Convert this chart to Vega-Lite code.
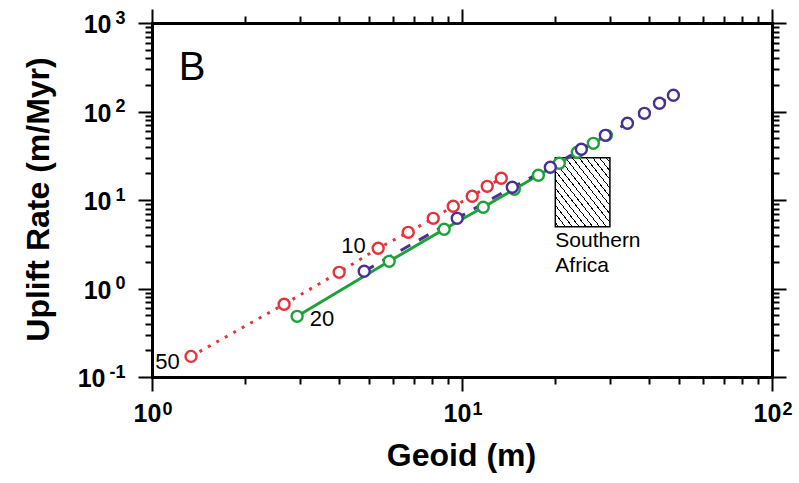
{
  "$schema": "https://vega.github.io/schema/vega-lite/v6.json",
  "width": 620,
  "height": 354,
  "autosize": "none",
  "padding": {"left": 152, "top": 23, "right": 27, "bottom": 106},
  "background": "white",
  "config": {
    "view": {"stroke": null},
    "axis": {"grid": false, "domainColor": "black", "tickColor": "black", "labelColor": "black", "titleColor": "black", "labelFont": "Liberation Sans", "titleFont": "Liberation Sans", "labelOverlap": false, "labelFlush": false, "labelBound": false, "domainCap": "square"}
  },
  "datasets": {
    "pts": [
      {"s": "r", "x": 1.336, "y": 0.171},
      {"s": "r", "x": 2.668, "y": 0.663},
      {"s": "r", "x": 4.015, "y": 1.524},
      {"s": "r", "x": 5.365, "y": 2.846},
      {"s": "r", "x": 6.707, "y": 4.315},
      {"s": "r", "x": 8.078, "y": 6.21},
      {"s": "r", "x": 9.37, "y": 8.49},
      {"s": "r", "x": 10.79, "y": 11.01},
      {"s": "r", "x": 12.06, "y": 14.28},
      {"s": "r", "x": 13.39, "y": 17.59},
      {"s": "g", "x": 2.939, "y": 0.485},
      {"s": "g", "x": 5.823, "y": 2.029},
      {"s": "g", "x": 8.76, "y": 4.667},
      {"s": "g", "x": 11.71, "y": 8.27},
      {"s": "g", "x": 14.75, "y": 13.21},
      {"s": "g", "x": 17.63, "y": 19.02},
      {"s": "g", "x": 20.6, "y": 26.0},
      {"s": "g", "x": 23.55, "y": 34.6},
      {"s": "g", "x": 26.53, "y": 43.7},
      {"s": "g", "x": 29.22, "y": 53.8},
      {"s": "p", "x": 4.836, "y": 1.565},
      {"s": "p", "x": 9.65, "y": 6.21},
      {"s": "p", "x": 14.53, "y": 13.92},
      {"s": "p", "x": 19.27, "y": 23.42},
      {"s": "p", "x": 24.27, "y": 37.4},
      {"s": "p", "x": 29.0, "y": 53.8},
      {"s": "p", "x": 34.17, "y": 73.6},
      {"s": "p", "x": 38.77, "y": 95.4},
      {"s": "p", "x": 43.35, "y": 123.8},
      {"s": "p", "x": 48.08, "y": 152.5}
    ],
    "ann": [
      {"t": "50", "x": 1.122, "y": 0.1486},
      {"t": "20", "x": 3.535, "y": 0.458},
      {"t": "10", "x": 4.467, "y": 3.06}
    ],
    "sa": [{"t": "Southern\nAfrica", "x": 20.0, "y": 2.94}],
    "panel": [{"t": "B", "x": 1.346, "y": 310}],
    "box": [{"x": 20, "x2": 30, "y": 5, "y2": 30}]
  },
  "resolve": {"axis": {"x": "independent", "y": "independent"}},
  "layer": [
    {
      "data": {"name": "pts"},
      "mark": {"type": "point", "opacity": 0},
      "encoding": {
        "x": {"field": "x", "type": "quantitative", "scale": {"type": "log", "domain": [1, 100], "nice": false},
          "axis": {"orient": "bottom", "values": [1, 10, 100], "labelExpr": "'10'", "labelFontSize": 25, "labelFontWeight": "bold", "labelAlign": "center", "labelBaseline": "top", "labelPadding": 10, "labelOffset": -5, "tickSize": 14, "tickWidth": 2, "domainWidth": 3,
            "title": "Geoid (m)", "titleFontSize": 32, "titleFontWeight": "bold", "titleX": 309, "titleY": 78, "titleAlign": "center", "titleBaseline": "middle"}},
        "y": {"field": "y", "type": "quantitative", "scale": {"type": "log", "domain": [0.1, 1000], "nice": false},
          "axis": {"orient": "left", "values": [0.1, 1, 10, 100, 1000], "labelExpr": "'10'", "labelFontSize": 25, "labelFontWeight": "bold", "labelAlign": "right", "labelBaseline": "middle", "labelPadding": {"condition": {"test": "datum.value < 0.5", "value": 33}, "value": 27}, "labelOffset": 1.5, "tickSize": 14, "tickWidth": 2, "domainWidth": 3,
            "title": "Uplift Rate (m/Myr)", "titleFontSize": 32, "titleFontWeight": "bold", "titleX": -114, "titleY": 176, "titleAngle": -90, "titleAlign": "center", "titleBaseline": "middle"}}
      }
    },
    {
      "data": {"name": "pts"},
      "mark": {"type": "point", "opacity": 0},
      "encoding": {
        "x": {"field": "x", "type": "quantitative", "scale": {"type": "log", "domain": [1, 100], "nice": false},
          "axis": {"orient": "bottom", "values": [1, 10, 100], "labelExpr": "datum.value < 0.5 ? '-1' : datum.value < 5 ? '0' : datum.value < 50 ? '1' : datum.value < 500 ? '2' : '3'", "labelFontSize": 18, "labelFontWeight": "bold", "labelAlign": "center", "labelBaseline": "top", "labelPadding": 23, "labelOffset": 15, "ticks": false, "tickSize": 0, "domain": false, "title": null}},
        "y": {"field": "y", "type": "quantitative", "scale": {"type": "log", "domain": [0.1, 1000], "nice": false},
          "axis": {"orient": "left", "values": [0.1, 1, 10, 100, 1000], "labelExpr": "datum.value < 0.5 ? '-1' : datum.value < 5 ? '0' : datum.value < 50 ? '1' : datum.value < 500 ? '2' : '3'", "labelFontSize": 18, "labelFontWeight": "bold", "labelAlign": "right", "labelBaseline": "middle", "labelPadding": 27, "labelOffset": -5, "ticks": false, "tickSize": 0, "domain": false, "title": null}}
      }
    },
    {
      "data": {"name": "pts"},
      "mark": {"type": "point", "opacity": 0},
      "encoding": {
        "x": {"field": "x", "type": "quantitative", "scale": {"type": "log", "domain": [1, 100], "nice": false},
          "axis": {"orient": "bottom", "values": [2, 3, 4, 5, 6, 7, 8, 9, 20, 30, 40, 50, 60, 70, 80, 90], "labels": false, "tickSize": 7, "tickWidth": 2, "domain": false, "title": null}},
        "y": {"field": "y", "type": "quantitative", "scale": {"type": "log", "domain": [0.1, 1000], "nice": false},
          "axis": {"orient": "left", "values": [0.2, 0.3, 0.4, 0.5, 0.6, 0.7, 0.8, 0.9, 2, 3, 4, 5, 6, 7, 8, 9, 20, 30, 40, 50, 60, 70, 80, 90, 200, 300, 400, 500, 600, 700, 800, 900], "labels": false, "tickSize": 7, "tickWidth": 2, "domain": false, "title": null}}
      }
    },
    {
      "data": {"name": "pts"},
      "mark": {"type": "point", "opacity": 0},
      "encoding": {
        "x": {"field": "x", "type": "quantitative", "scale": {"type": "log", "domain": [1, 100], "nice": false},
          "axis": {"orient": "top", "values": [1, 10, 100], "labels": false, "tickSize": 14, "tickWidth": 2, "domainWidth": 3, "title": null}},
        "y": {"field": "y", "type": "quantitative", "scale": {"type": "log", "domain": [0.1, 1000], "nice": false},
          "axis": {"orient": "right", "values": [0.1, 1, 10, 100, 1000], "labels": false, "tickSize": 14, "tickWidth": 2, "domainWidth": 3, "title": null}}
      }
    },
    {
      "data": {"name": "pts"},
      "mark": {"type": "point", "opacity": 0},
      "encoding": {
        "x": {"field": "x", "type": "quantitative", "scale": {"type": "log", "domain": [1, 100], "nice": false},
          "axis": {"orient": "top", "values": [2, 3, 4, 5, 6, 7, 8, 9, 20, 30, 40, 50, 60, 70, 80, 90], "labels": false, "tickSize": 7, "tickWidth": 2, "domain": false, "title": null}},
        "y": {"field": "y", "type": "quantitative", "scale": {"type": "log", "domain": [0.1, 1000], "nice": false},
          "axis": {"orient": "right", "values": [0.2, 0.3, 0.4, 0.5, 0.6, 0.7, 0.8, 0.9, 2, 3, 4, 5, 6, 7, 8, 9, 20, 30, 40, 50, 60, 70, 80, 90, 200, 300, 400, 500, 600, 700, 800, 900], "labels": false, "tickSize": 7, "tickWidth": 2, "domain": false, "title": null}}
      }
    },
    {
      "data": {"name": "box"},
      "mark": {"type": "rect", "stroke": "black", "strokeWidth": 1.5,
        "fill": {"gradient": "linear", "x1": 0, "y1": 1, "x2": 1, "y2": 0, "stops": [
          {"offset": 0, "color": "white"},
          {"offset": 0.025, "color": "white"}, {"offset": 0.025, "color": "black"}, {"offset": 0.035, "color": "black"}, {"offset": 0.035, "color": "white"},
          {"offset": 0.0875, "color": "white"}, {"offset": 0.0875, "color": "black"}, {"offset": 0.0975, "color": "black"}, {"offset": 0.0975, "color": "white"},
          {"offset": 0.15, "color": "white"}, {"offset": 0.15, "color": "black"}, {"offset": 0.16, "color": "black"}, {"offset": 0.16, "color": "white"},
          {"offset": 0.2125, "color": "white"}, {"offset": 0.2125, "color": "black"}, {"offset": 0.2225, "color": "black"}, {"offset": 0.2225, "color": "white"},
          {"offset": 0.275, "color": "white"}, {"offset": 0.275, "color": "black"}, {"offset": 0.285, "color": "black"}, {"offset": 0.285, "color": "white"},
          {"offset": 0.3375, "color": "white"}, {"offset": 0.3375, "color": "black"}, {"offset": 0.3475, "color": "black"}, {"offset": 0.3475, "color": "white"},
          {"offset": 0.4, "color": "white"}, {"offset": 0.4, "color": "black"}, {"offset": 0.41, "color": "black"}, {"offset": 0.41, "color": "white"},
          {"offset": 0.4625, "color": "white"}, {"offset": 0.4625, "color": "black"}, {"offset": 0.4725, "color": "black"}, {"offset": 0.4725, "color": "white"},
          {"offset": 0.525, "color": "white"}, {"offset": 0.525, "color": "black"}, {"offset": 0.535, "color": "black"}, {"offset": 0.535, "color": "white"},
          {"offset": 0.5875, "color": "white"}, {"offset": 0.5875, "color": "black"}, {"offset": 0.5975, "color": "black"}, {"offset": 0.5975, "color": "white"},
          {"offset": 0.65, "color": "white"}, {"offset": 0.65, "color": "black"}, {"offset": 0.66, "color": "black"}, {"offset": 0.66, "color": "white"},
          {"offset": 0.7125, "color": "white"}, {"offset": 0.7125, "color": "black"}, {"offset": 0.7225, "color": "black"}, {"offset": 0.7225, "color": "white"},
          {"offset": 0.775, "color": "white"}, {"offset": 0.775, "color": "black"}, {"offset": 0.785, "color": "black"}, {"offset": 0.785, "color": "white"},
          {"offset": 0.8375, "color": "white"}, {"offset": 0.8375, "color": "black"}, {"offset": 0.8475, "color": "black"}, {"offset": 0.8475, "color": "white"},
          {"offset": 0.9, "color": "white"}, {"offset": 0.9, "color": "black"}, {"offset": 0.91, "color": "black"}, {"offset": 0.91, "color": "white"},
          {"offset": 0.9625, "color": "white"}, {"offset": 0.9625, "color": "black"}, {"offset": 0.9725, "color": "black"}, {"offset": 0.9725, "color": "white"},
          {"offset": 1, "color": "white"}
        ]}},
      "encoding": {
        "x": {"field": "x", "type": "quantitative", "scale": {"type": "log", "domain": [1, 100], "nice": false}, "axis": null},
        "x2": {"field": "x2"},
        "y": {"field": "y", "type": "quantitative", "scale": {"type": "log", "domain": [0.1, 1000], "nice": false}, "axis": null},
        "y2": {"field": "y2"}
      }
    },
    {
      "data": {"name": "pts"},
      "transform": [{"filter": "datum.s == 'r'"}],
      "mark": {"type": "line", "color": "#e5323b", "strokeWidth": 3, "strokeDash": [3, 6.7]},
      "encoding": {
        "x": {"field": "x", "type": "quantitative", "scale": {"type": "log", "domain": [1, 100], "nice": false}, "axis": null},
        "y": {"field": "y", "type": "quantitative", "scale": {"type": "log", "domain": [0.1, 1000], "nice": false}, "axis": null}
      }
    },
    {
      "data": {"name": "pts"},
      "transform": [{"filter": "datum.s == 'g'"}],
      "mark": {"type": "line", "color": "#1da23a", "strokeWidth": 3},
      "encoding": {
        "x": {"field": "x", "type": "quantitative", "scale": {"type": "log", "domain": [1, 100], "nice": false}, "axis": null},
        "y": {"field": "y", "type": "quantitative", "scale": {"type": "log", "domain": [0.1, 1000], "nice": false}, "axis": null}
      }
    },
    {
      "data": {"name": "pts"},
      "transform": [{"filter": "datum.s == 'p'"}],
      "mark": {"type": "line", "color": "#4a3090", "strokeWidth": 3, "strokeDash": [11, 10]},
      "encoding": {
        "x": {"field": "x", "type": "quantitative", "scale": {"type": "log", "domain": [1, 100], "nice": false}, "axis": null},
        "y": {"field": "y", "type": "quantitative", "scale": {"type": "log", "domain": [0.1, 1000], "nice": false}, "axis": null}
      }
    },
    {
      "data": {"name": "pts"},
      "mark": {"type": "point", "shape": "circle", "filled": false, "fill": "white", "fillOpacity": 1, "strokeWidth": 2.4, "size": 120, "opacity": 1},
      "encoding": {
        "x": {"field": "x", "type": "quantitative", "scale": {"type": "log", "domain": [1, 100], "nice": false}, "axis": null},
        "y": {"field": "y", "type": "quantitative", "scale": {"type": "log", "domain": [0.1, 1000], "nice": false}, "axis": null},
        "stroke": {"field": "s", "type": "nominal", "scale": {"domain": ["r", "g", "p"], "range": ["#e5323b", "#1da23a", "#4a3090"]}, "legend": null}
      }
    },
    {
      "data": {"name": "ann"},
      "mark": {"type": "text", "font": "Liberation Sans", "fontSize": 22, "align": "center", "baseline": "middle", "color": "black"},
      "encoding": {
        "x": {"field": "x", "type": "quantitative", "scale": {"type": "log", "domain": [1, 100], "nice": false}, "axis": null},
        "y": {"field": "y", "type": "quantitative", "scale": {"type": "log", "domain": [0.1, 1000], "nice": false}, "axis": null},
        "text": {"field": "t"}
      }
    },
    {
      "data": {"name": "sa"},
      "mark": {"type": "text", "font": "Liberation Sans", "fontSize": 21, "align": "left", "baseline": "alphabetic", "lineBreak": "\n", "lineHeight": 25, "color": "black"},
      "encoding": {
        "x": {"field": "x", "type": "quantitative", "scale": {"type": "log", "domain": [1, 100], "nice": false}, "axis": null},
        "y": {"field": "y", "type": "quantitative", "scale": {"type": "log", "domain": [0.1, 1000], "nice": false}, "axis": null},
        "text": {"field": "t"}
      }
    },
    {
      "data": {"name": "panel"},
      "mark": {"type": "text", "font": "Liberation Sans", "fontSize": 40, "align": "center", "baseline": "middle", "color": "black"},
      "encoding": {
        "x": {"field": "x", "type": "quantitative", "scale": {"type": "log", "domain": [1, 100], "nice": false}, "axis": null},
        "y": {"field": "y", "type": "quantitative", "scale": {"type": "log", "domain": [0.1, 1000], "nice": false}, "axis": null},
        "text": {"field": "t"}
      }
    }
  ]
}
